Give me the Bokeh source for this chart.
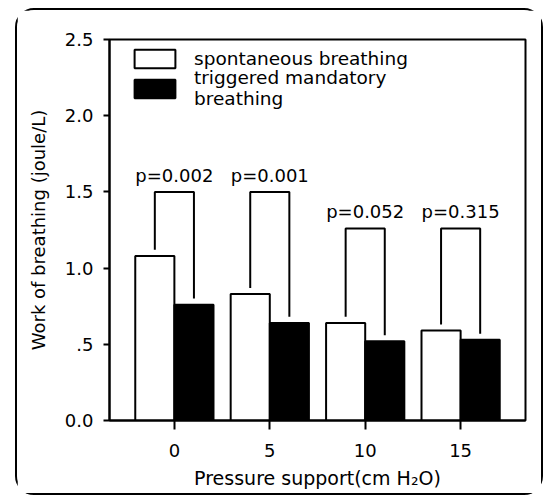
import numpy as np
from bokeh.plotting import figure
from bokeh.models import (ColumnDataSource, Range1d, FixedTicker, Legend, LegendItem)
from bokeh.core.properties import value
from bokeh.embed import file_html
from bokeh.resources import INLINE

# ---- data ----
pressure_labels = ["0", "5", "10", "15"]
spontaneous = [1.08, 0.83, 0.64, 0.59]
triggered = [0.76, 0.64, 0.52, 0.53]
bracket_top = [1.5, 1.5, 1.26, 1.26]
p_labels = ["p=0.002", "p=0.001", "p=0.052", "p=0.315"]
y_ticks = [0.0, 0.5, 1.0, 1.5, 2.0, 2.5]
y_tick_labels = ["0.0", ".5", "1.0", "1.5", "2.0", "2.5"]

FONT = "DejaVu Sans"
BAR_W = 0.41
OFF = BAR_W / 2
GAP = 0.04

pos = np.arange(len(pressure_labels))

p = figure(width=528, height=487, output_backend="svg", toolbar_location=None,
           x_range=Range1d(-0.68, 3.68), y_range=Range1d(0, 2.5),
           min_border_left=92, min_border_right=20, min_border_top=29,
           min_border_bottom=77)
# rounded outer panel border
p.styles = {"margin-left": "15px", "margin-top": "8px",
            "border": "2px solid black", "border-radius": "19px"}

src = ColumnDataSource(dict(x_s=pos - OFF, x_t=pos + OFF,
                            spont=spontaneous, trig=triggered))
r1 = p.vbar(x="x_s", top="spont", width=BAR_W, source=src,
            fill_color="white", line_color="black", line_width=2)
r2 = p.vbar(x="x_t", top="trig", width=BAR_W, source=src,
            fill_color="black", line_color="black", line_width=2)

# brackets
xs, ys = [], []
for i in range(len(pos)):
    xs.append([pos[i] - OFF, pos[i] - OFF, pos[i] + OFF, pos[i] + OFF])
    ys.append([spontaneous[i] + GAP, bracket_top[i], bracket_top[i], triggered[i] + GAP])
p.multi_line(xs=xs, ys=ys, line_color="black", line_width=2)

# p labels
p.text(x=pos, y=[b + 0.11 for b in bracket_top], text=p_labels,
       text_font=value(FONT), text_font_size="18px", text_align="center",
       text_baseline="middle", text_color="black")

# axes
p.xgrid.visible = False
p.ygrid.visible = False
p.outline_line_color = "black"
p.outline_line_width = 2
p.outline_line_alpha = 1

p.xaxis.ticker = FixedTicker(ticks=list(pos))
p.xaxis.major_label_overrides = {int(i): l for i, l in zip(pos, pressure_labels)}
p.yaxis.ticker = FixedTicker(ticks=y_ticks)
p.yaxis.major_label_overrides = {t: l for t, l in zip(y_ticks, y_tick_labels)}

for ax in (p.xaxis[0], p.yaxis[0]):
    ax.axis_line_width = 2
    ax.major_tick_line_width = 2
    ax.minor_tick_line_color = None
    ax.major_tick_in = 0
    ax.major_label_text_font = FONT
    ax.major_label_text_font_size = "18px"
    ax.major_label_text_color = "black"
    ax.axis_label_text_font = FONT
    ax.axis_label_text_font_size = "18px"
    ax.axis_label_text_font_style = "normal"
    ax.axis_label_text_color = "black"

p.yaxis.major_tick_out = 6
p.yaxis.major_label_standoff = 10
p.yaxis.axis_label = "Work of breathing (joule/L)"
p.yaxis.axis_label_standoff = 13
p.xaxis.major_tick_out = 9
p.xaxis.major_label_standoff = 14
p.xaxis.axis_label = "Pressure support(cm H\u2082O)"
p.xaxis.axis_label_text_font_size = "19px"
p.xaxis.axis_label_standoff = 7

common = dict(margin=0, padding=0, spacing=0, glyph_width=51, glyph_height=23,
              label_standoff=14, label_text_font=FONT, label_text_font_size="18.5px",
              label_text_color="black", border_line_color=None,
              background_fill_alpha=0)
leg1 = Legend(items=[LegendItem(label="spontaneous breathing", renderers=[r1])],
              location=(20, 350), **common)
leg2 = Legend(items=[LegendItem(label="triggered mandatory\nbreathing", renderers=[r2])],
              location=(20, 311), **common)
p.add_layout(leg1)
p.add_layout(leg2)

open("out.html", "w").write(file_html(p, INLINE))
